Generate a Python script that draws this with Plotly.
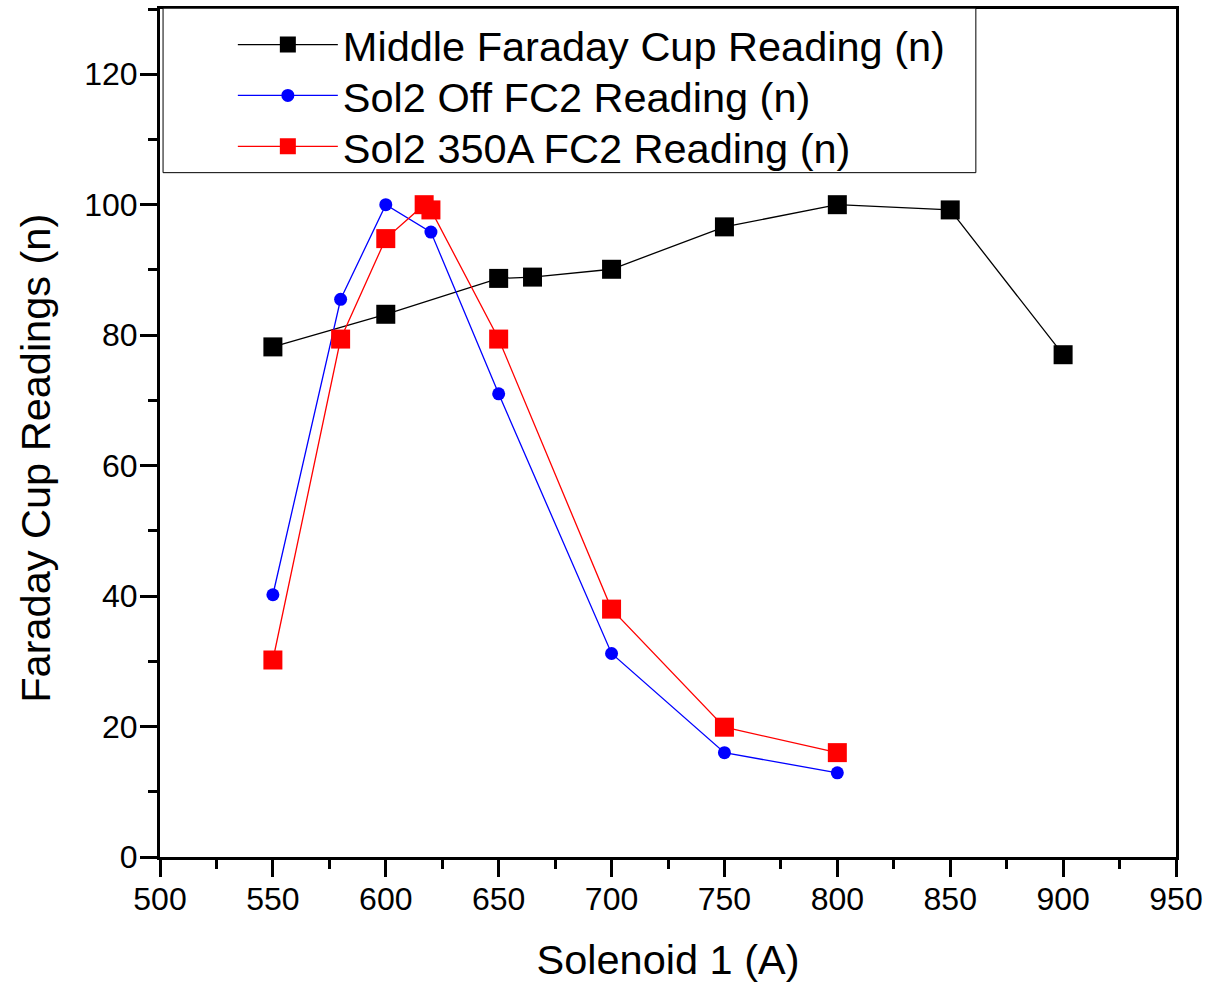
import plotly.graph_objects as go

# Data
x_middle = [550, 600, 650, 665, 700, 750, 800, 850, 900]
y_middle = [78.2, 83.2, 88.7, 88.9, 90.1, 96.6, 100.0, 99.2, 77.0]

x_off = [550, 580, 600, 620, 650, 700, 750, 800]
y_off = [40.2, 85.5, 100.0, 95.8, 71.0, 31.2, 16.0, 12.9]

x_350 = [550, 580, 600, 617, 620, 650, 700, 750, 800]
y_350 = [30.2, 79.4, 94.8, 100.0, 99.2, 79.4, 38.0, 19.9, 16.0]

x_ticks = [500, 550, 600, 650, 700, 750, 800, 850, 900, 950]
y_ticks = [0, 20, 40, 60, 80, 100, 120]

FONT = "Arial, Liberation Sans, Helvetica, sans-serif"

fig = go.Figure()
fig.add_trace(go.Scatter(
    x=x_middle, y=y_middle, mode="lines+markers",
    name="Middle Faraday Cup Reading (n)", legend="legend",
    line=dict(color="black", width=1.3),
    marker=dict(symbol="square", size=19, color="black"),
))
fig.add_trace(go.Scatter(
    x=x_off, y=y_off, mode="lines+markers",
    name="Sol2 Off FC2 Reading (n)", legend="legend2",
    line=dict(color="#0000ff", width=1.3),
    marker=dict(symbol="circle", size=13, color="#0000ff"),
))
fig.add_trace(go.Scatter(
    x=x_350, y=y_350, mode="lines+markers",
    name="Sol2 350A FC2 Reading (n)", legend="legend3",
    line=dict(color="#ff0000", width=1.3),
    marker=dict(symbol="square", size=19, color="#ff0000"),
))

axis_common = dict(
    showline=True, linecolor="black", linewidth=3, mirror=True,
    ticks="outside", ticklen=17, tickwidth=3, tickcolor="black",
    showgrid=False, zeroline=False,
    tickfont=dict(family=FONT, size=32, color="black"),
)

fig.update_xaxes(
    range=[500, 950], tickvals=x_ticks,
    title=dict(text="Solenoid 1 (A)", font=dict(family=FONT, size=41.5, color="black"), standoff=29),
    minor=dict(ticks="outside", ticklen=9, tickwidth=3, tickcolor="black", dtick=25, showgrid=False),
    ticklabelstandoff=-5,
    **axis_common,
)
fig.update_yaxes(
    range=[0, 130], tickvals=y_ticks,
    minor=dict(ticks="outside", ticklen=9, tickwidth=3, tickcolor="black", dtick=10, showgrid=False),
    ticklabelstandoff=-4,
    **axis_common,
)

fig.add_annotation(
    text="Faraday Cup Readings (n)", textangle=-90,
    xref="paper", yref="paper", x=-0.1228, y=0.4699,
    xanchor="center", yanchor="middle", showarrow=False,
    font=dict(family=FONT, size=41.5, color="black"),
)

# legend frame
fig.add_shape(
    type="rect", xref="paper", yref="paper",
    x0=0.003, x1=0.803, y0=0.807, y1=1.001,
    line=dict(color="black", width=1), fillcolor="white", layer="above",
)

leg_common = dict(
    x=0.0717, xanchor="left", yanchor="middle",
    bgcolor="rgba(0,0,0,0)", borderwidth=0,
    font=dict(family=FONT, size=41.5, color="black"),
    itemwidth=100,
)

fig.update_layout(
    width=1209, height=984,
    margin=dict(l=160, r=31, t=6, b=127),
    paper_bgcolor="white", plot_bgcolor="white",
    font=dict(family=FONT, color="black"),
    showlegend=True,
    legend=dict(y=0.958, **leg_common),
    legend2=dict(y=0.898, **leg_common),
    legend3=dict(y=0.838, **leg_common),
)

fig.write_html("out.html", config={"displayModeBar": False},
               post_script="document.body.style.margin='0';")
